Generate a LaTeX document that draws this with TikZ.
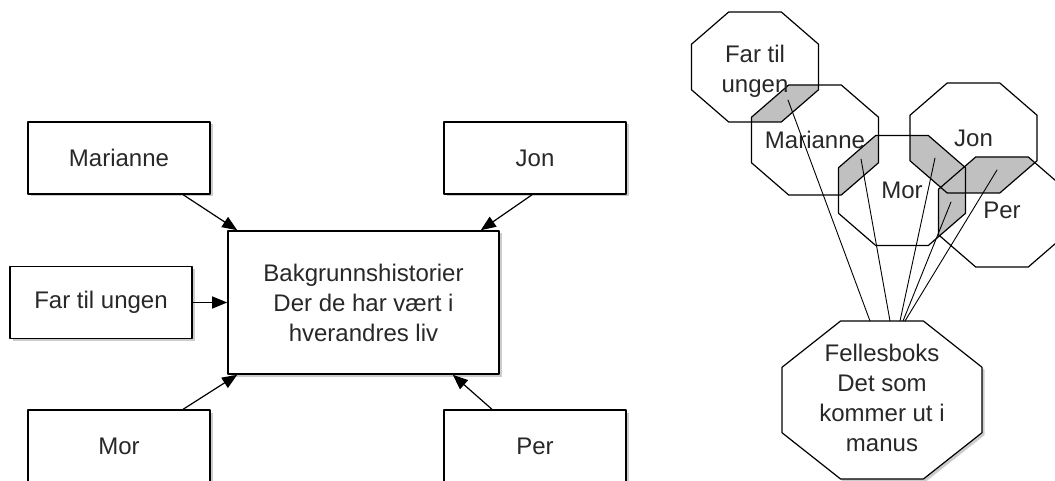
\documentclass[tikz,border=0pt]{standalone}
\usepackage{fontspec}
\setmainfont{Liberation Sans}
\usetikzlibrary{arrows.meta,shadows,calc}

% octagon outline: centre, half width, half height
\newcommand{\octpath}[3]{([shift={(-0.4142*#2,-#3)}]#1) -- ++(0.8284*#2,0) -- ++(0.5858*#2,0.5858*#3) -- ++(0,0.8284*#3) -- ++(-0.5858*#2,0.5858*#3) -- ++(-0.8284*#2,0) -- ++(-0.5858*#2,-0.5858*#3) -- ++(0,-0.8284*#3) -- cycle}

\begin{document}
\begin{tikzpicture}[line cap=round,line join=round,x=1pt,y=-1pt,
  font=\fontsize{24}{30}\selectfont,text=ink,
  person/.style={draw,fill=white,line width=1.6pt,minimum width=182pt,minimum height=72pt,
    drop shadow={shadow xshift=2.5pt,shadow yshift=-2.5pt,opacity=0.4}},
  story/.style={person,minimum width=271pt,minimum height=143pt,align=center},
  feed/.style={line width=1.2pt,-{Triangle[length=15pt,width=12pt]}},
  ring/.style={line width=1.2pt},
  thread/.style={line width=0.9pt}]
  \definecolor{ink}{RGB}{40,40,40}
  \definecolor{overlap}{RGB}{192,192,192}

  \useasboundingbox (0,0) rectangle (1055,481);

  % left: character boxes feeding the back-story box
  \node[story] (bak) at (363.5,302.5) {Bakgrunnshistorier\\Der de har vært i\\hverandres liv};
  \node[person] (mar) at (119,158) {Marianne};
  \node[person] (far) at (101,302.5) {Far til ungen};
  \node[person] (mor) at (119,446) {Mor};
  \node[person] (jon) at (535,158) {Jon};
  \node[person] (per) at (535,446) {Per};

  \draw[feed] ($(mar.south)!0.7!(mar.south east)$) -- ([xshift=10pt]bak.north west);
  \draw[feed] ([xshift=-3pt]jon.south) -- ([xshift=-19pt]bak.north east);
  \draw[feed] (far.east) -- (bak.west);
  \draw[feed] ($(mor.north)!0.7!(mor.north east)$) -- ([xshift=10pt]bak.south west);
  \draw[feed] ($(per.north)!0.47!(per.north west)$) -- ([xshift=-47pt]bak.south east);

  % right: overlapping octagons
  \coordinate (ofar) at (755,67);
  \coordinate (omar) at (815,140);
  \coordinate (omor) at (902,190.5);
  \coordinate (ojon) at (973.5,138);
  \coordinate (oper) at (1002,212);
  \coordinate (ofel) at (882,400);

  % shaded overlaps
  \foreach \a/\b in {ofar/omar,omar/omor,omor/ojon,omor/oper,ojon/oper}{
    \begin{scope}
      \clip \octpath{\a}{63.5}{55};
      \fill[overlap] \octpath{\b}{63.5}{55};
    \end{scope}
  }
  \foreach \c in {ofar,omar,omor,ojon,oper}
    \draw[ring] \octpath{\c}{63.5}{55};

  \node[align=center] (tfar) at ([yshift=-4pt]ofar) {Far til\\ungen};
  \node (tmar) at (omar) {Marianne};
  \node (tmor) at (omor) {Mor};
  \node (tjon) at (ojon) {Jon};
  \node (tper) at ([yshift=2pt]oper) {Per};

  % shared box
  \draw[ring,fill=white,drop shadow={shadow xshift=2.5pt,shadow yshift=-2.5pt,opacity=0.4}] \octpath{ofel}{100}{79};
  \node[align=center] (tfel) at ([yshift=2pt]ofel) {Fellesboks\\Det som\\kommer ut i\\manus};

  % threads from the overlaps down to the shared box
  \coordinate (fbtop) at (882,321);
  \coordinate (xfarmar) at (788,100);
  \coordinate (xmarmor) at (861,159);
  \coordinate (xmorjon) at (935,158);
  \coordinate (xmorper) at (951,202);
  \coordinate (xjonper) at (997,170);
  \draw[thread] (xfarmar) -- ([xshift=-12pt]fbtop);
  \draw[thread] (xmarmor) -- ([xshift=8pt]fbtop);
  \draw[thread] (xmorjon) -- ([xshift=18pt]fbtop);
  \draw[thread] (xmorper) -- ([xshift=21pt]fbtop);
  \draw[thread] (xjonper) -- ([xshift=23pt]fbtop);
\end{tikzpicture}
\end{document}
